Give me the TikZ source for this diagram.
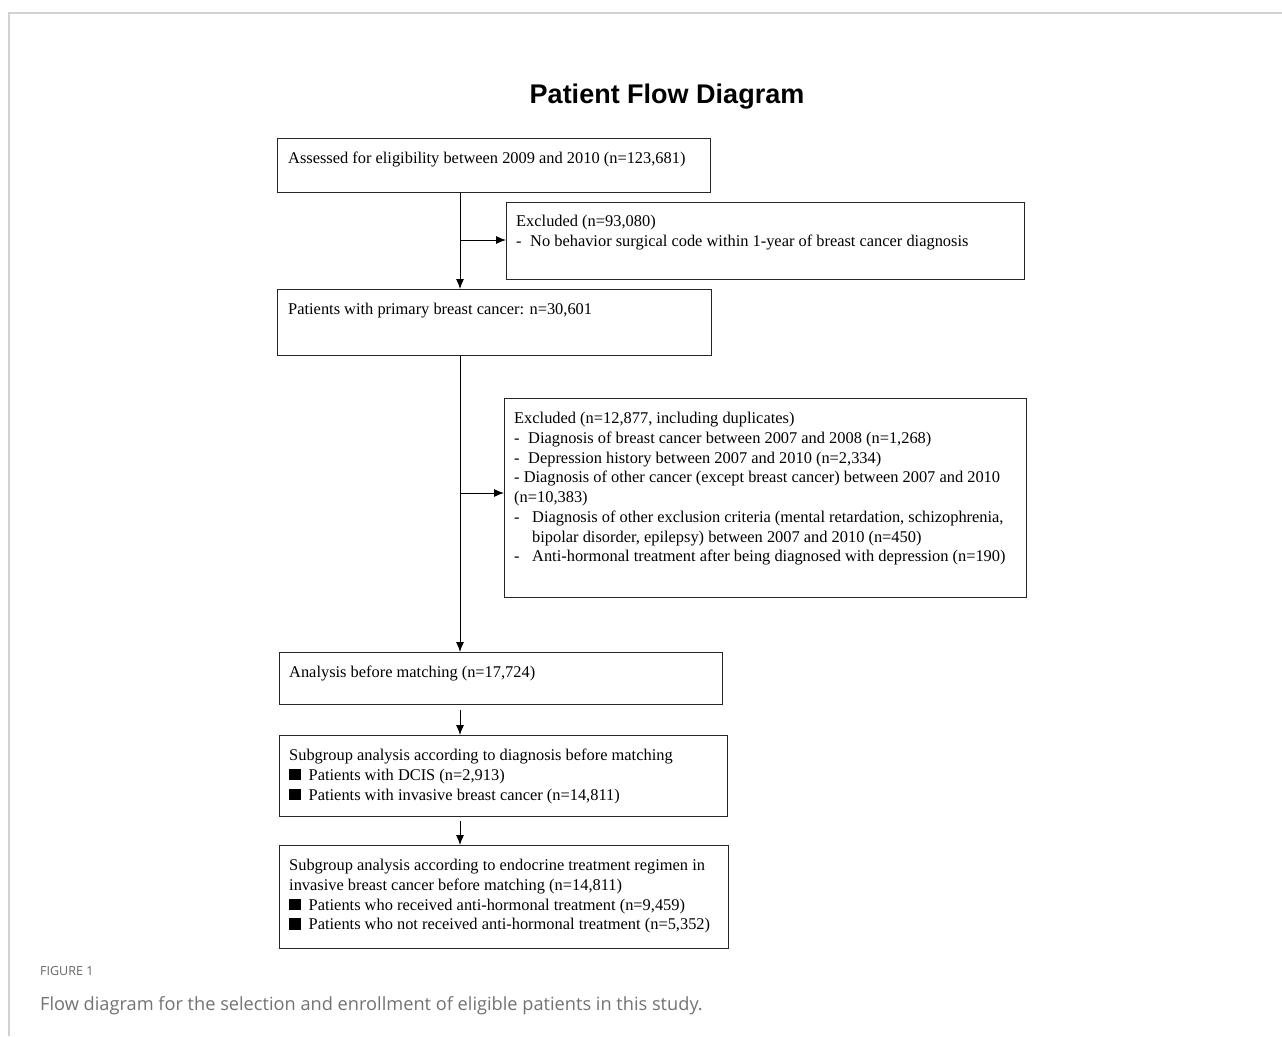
\documentclass[tikz,border=0pt]{standalone}
\usepackage{fontspec}
\setmainfont{Liberation Serif}
\newfontfamily\titlefont{Liberation Sans}
\newfontfamily\capfont{Open Sans}
\usetikzlibrary{arrows.meta,calc}
\newcommand{\dsh}[1]{\makebox[#1][l]{-}}
\newcommand{\sqb}{\makebox[19.5pt][l]{\rule{12pt}{11.5pt}}}
\begin{document}
\begin{tikzpicture}[x=1pt,y=-1pt,
  box/.style={draw=black!85, line width=1.1pt, anchor=north west, inner sep=0pt},
  txt/.style={inner sep=0pt, align=left, anchor=north west, font=\fontsize{16.4}{19.75}\selectfont},
  arr/.style={-{Latex[length=10pt,width=8pt]}, line width=0.9pt},
  frame/.style={draw=black!18, line width=1.6pt}]
\useasboundingbox (0,0) rectangle (1282,1036);
\fill[white] (0,0) rectangle (1282,1036);
\draw[frame] (9,1036) -- (9,13) -- (1282,13);

\node[font=\titlefont\bfseries\fontsize{27}{32}\selectfont, anchor=base, inner sep=0pt] (title) at (667,103) {Patient Flow Diagram};

% boxes
\node[box, minimum width=433pt, minimum height=54pt] (b1) at (277,138) {};
\node[box, minimum width=518pt, minimum height=77pt] (b2) at (506,202) {};
\node[box, minimum width=434pt, minimum height=66pt] (b3) at (277,289) {};
\node[box, minimum width=522pt, minimum height=199pt] (b4) at (504,398) {};
\node[box, minimum width=443pt, minimum height=52pt] (b5) at (279,652) {};
\node[box, minimum width=448pt, minimum height=81pt] (b6) at (279,735) {};
\node[box, minimum width=449pt, minimum height=103pt] (b7) at (279,845) {};

% texts
\node[txt] (t1) at (288,151) {\rule{0pt}{12pt}Assessed for eligibility between 2009 and 2010 (n=123,681)};
\node[txt] (t2) at (516,214.5) {\rule{0pt}{12pt}Excluded (n=93,080)\\
\dsh{14pt}No behavior surgical code within 1-year of breast cancer diagnosis};
\node[txt] (t3) at (288,302) {\rule{0pt}{12pt}Patients with primary breast cancer: n=30,601};
\node[txt] (t4) at (514,411.3) {\rule{0pt}{12pt}Excluded (n=12,877, including duplicates)\\
\dsh{14pt}Diagnosis of breast cancer between 2007 and 2008 (n=1,268)\\
\dsh{14pt}Depression history between 2007 and 2010 (n=2,334)\\
- Diagnosis of other cancer (except breast cancer) between 2007 and 2010\\
(n=10,383)\\
\dsh{18pt}Diagnosis of other exclusion criteria (mental retardation, schizophrenia,\\
\hspace*{18pt}bipolar disorder, epilepsy) between 2007 and 2010 (n=450)\\
\dsh{18pt}Anti-hormonal treatment after being diagnosed with depression (n=190)};
\node[txt] (t5) at (289,665.5) {\rule{0pt}{12pt}Analysis before matching (n=17,724)};
\node[txt] (t6) at (289,748.5) {\rule{0pt}{12pt}Subgroup analysis according to diagnosis before matching\\
\sqb Patients with DCIS (n=2,913)\\
\sqb Patients with invasive breast cancer (n=14,811)};
\node[txt] (t7) at (289,858.5) {\rule{0pt}{12pt}Subgroup analysis according to endocrine treatment regimen in\\
invasive breast cancer before matching (n=14,811)\\
\sqb Patients who received anti-hormonal treatment (n=9,459)\\
\sqb Patients who not received anti-hormonal treatment (n=5,352)};

% connectors
\coordinate (tr) at (460,0);
\coordinate (j1) at (460,240);
\coordinate (j2) at (460,493);
\draw[arr] (b1.south -| tr) -- (b3.north -| tr);
\draw[arr] (j1) -- (j1 -| b2.west);
\draw[arr] (b3.south -| tr) -- (b5.north -| tr);
\draw[arr] (j2) -- (j2 -| b4.west);
\draw[arr] ($(b5.south -| tr)+(0,5)$) -- (b6.north -| tr);
\draw[arr] ($(b6.south -| tr)+(0,4)$) -- (b7.north -| tr);

% caption
\node[anchor=base west, inner sep=0pt, font=\capfont\fontsize{12.5}{14}\selectfont, text=black!60] (figlab) at (40,975) {FIGURE 1};
\node[anchor=base west, inner sep=0pt, font=\capfont\fontsize{18.2}{21}\selectfont, text=black!55] (cap) at (40,1010) {Flow diagram for the selection and enrollment of eligible patients in this study.};
\end{tikzpicture}
\end{document}
